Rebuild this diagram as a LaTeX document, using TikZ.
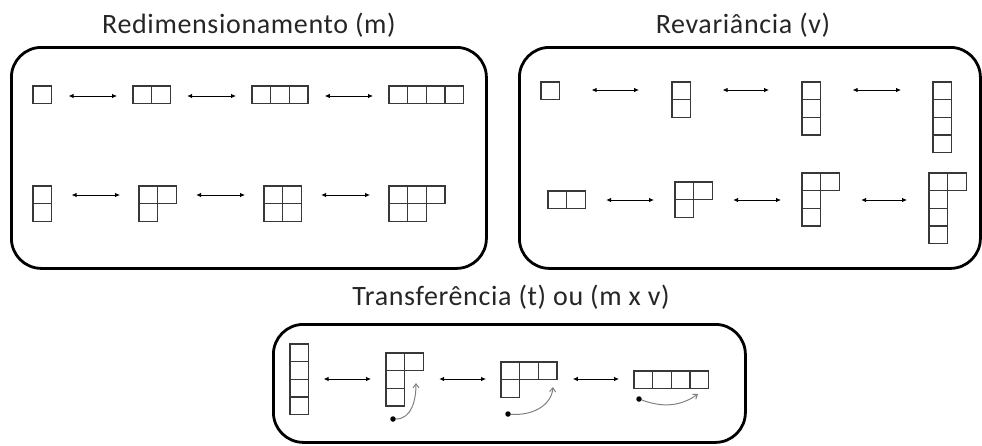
\documentclass[tikz,border=0pt]{standalone}
\usepackage{fontspec}
\setmainfont{Carlito}
\usetikzlibrary{arrows.meta, calc, positioning}
\definecolor{cellgrey}{rgb}{0.22,0.22,0.22}
\definecolor{curvegrey}{rgb}{0.5,0.5,0.5}
\newcommand{\cw}{18.6}
\newcommand{\ch}{17.6}
% a figure of unit cells: name, top-left corner, columns, rows, cells
\newcommand{\cellfig}[5]{%
  \node[figbox, minimum width=#3*\cw pt, minimum height=#4*\ch pt] (#1) at (#2) {};
  \foreach \cx/\cy in {#5}
    \draw[cell] ($(#1.north west)+(\cx*\cw,\cy*\ch)$) rectangle ++(\cw,\ch);
}
\tikzset{
  panel/.style={draw, line width=2.8pt, rounded corners=30pt, anchor=north west, inner sep=0pt},
  title/.style={anchor=base, font=\fontsize{28}{31}\selectfont\addfontfeatures{LetterSpace=2.3}, text=black!85},
  figbox/.style={anchor=north west, inner sep=0pt, outer sep=0pt},
  cell/.style={draw=cellgrey, line width=1.4pt},
  link/.style={{Latex[length=5pt,width=4.5pt]}-{Latex[length=5pt,width=4.5pt]}, line width=0.8pt},
  dot/.style={circle, fill=black, inner sep=0pt, minimum size=5.5pt},
  turn/.style={draw=curvegrey, line width=1pt, -{Straight Barb[length=4pt,width=6pt]}}
}

\begin{document}
\begin{tikzpicture}[x=1pt, y=-1pt]
    \useasboundingbox (0,0) rectangle (982,445);

    % Redimensionamento
    \node[title] (mtitle) at (249,33) {Redimensionamento (m)};
    \node[panel, minimum width=475pt, minimum height=221pt] (mbox) at (10,46) {};

    \cellfig{m1}{33,86}{1}{1}{0/0}
    \cellfig{m2}{133,86}{2}{1}{0/0,1/0}
    \cellfig{m3}{252,86}{3}{1}{0/0,1/0,2/0}
    \cellfig{m4}{389,86}{4}{1}{0/0,1/0,2/0,3/0}
    \cellfig{m5}{33,186}{1}{2}{0/0,0/1}
    \cellfig{m6}{139,186}{2}{2}{0/0,1/0,0/1}
    \cellfig{m7}{264,186}{2}{2}{0/0,1/0,0/1,1/1}
    \cellfig{m8}{389,186}{3}{2}{0/0,1/0,2/0,0/1,1/1}

    \coordinate (mrow1) at (0,96);
    \coordinate (mrow2) at (0,195);
    \draw[link, shorten <=17pt, shorten >=16pt] (m1.east |- mrow1) -- (m2.west |- mrow1);
    \draw[link, shorten <=17pt, shorten >=16pt] (m2.east |- mrow1) -- (m3.west |- mrow1);
    \draw[link, shorten <=17pt, shorten >=16pt] (m3.east |- mrow1) -- (m4.west |- mrow1);
    \draw[link, shorten <=20pt, shorten >=19pt] (m5.east |- mrow2) -- (m6.west |- mrow2);
    \draw[link, shorten <=20pt, shorten >=19pt] (m6.east |- mrow2) -- (m7.west |- mrow2);
    \draw[link, shorten <=20pt, shorten >=19pt] (m7.east |- mrow2) -- (m8.west |- mrow2);

    % Revariancia
    \node[title] (vtitle) at (743,33) {Revariância (v)};
    \node[panel, minimum width=461pt, minimum height=221pt] (vbox) at (518,46) {};

    \cellfig{v1}{541,82}{1}{1}{0/0}
    \cellfig{v2}{672,82}{1}{2}{0/0,0/1}
    \cellfig{v3}{802,82}{1}{3}{0/0,0/1,0/2}
    \cellfig{v4}{933,82}{1}{4}{0/0,0/1,0/2,0/3}
    \cellfig{v5}{548,191}{2}{1}{0/0,1/0}
    \cellfig{v6}{675,182}{2}{2}{0/0,1/0,0/1}
    \cellfig{v7}{802,173}{2}{3}{0/0,1/0,0/1,0/2}
    \cellfig{v8}{929,173}{2}{4}{0/0,1/0,0/1,0/2,0/3}

    \coordinate (vrow1) at (0,90);
    \coordinate (vrow2) at (0,200);
    \draw[link, shorten <=32pt, shorten >=33pt] (v1.east |- vrow1) -- (v2.west |- vrow1);
    \draw[link, shorten <=32pt, shorten >=33pt] (v2.east |- vrow1) -- (v3.west |- vrow1);
    \draw[link, shorten <=32pt, shorten >=32pt] (v3.east |- vrow1) -- (v4.west |- vrow1);
    \draw[link, shorten <=21pt, shorten >=21pt] (v5.east |- vrow2) -- (v6.west |- vrow2);
    \draw[link, shorten <=21pt, shorten >=21pt] (v6.east |- vrow2) -- (v7.west |- vrow2);
    \draw[link, shorten <=22pt, shorten >=22pt] (v7.east |- vrow2) -- (v8.west |- vrow2);

    % Transferencia
    \node[title] (ttitle) at (511,305) {Transferência (t) ou (m x v)};
    \node[panel, minimum width=472pt, minimum height=118pt] (tbox) at (272,323) {};

    \cellfig{t1}{290,344}{1}{4}{0/0,0/1,0/2,0/3}
    \cellfig{t2}{386,353}{2}{3}{0/0,1/0,0/1,0/2}
    \cellfig{t3}{501,362}{3}{2}{0/0,1/0,2/0,0/1}
    \cellfig{t4}{634,371}{4}{1}{0/0,1/0,2/0,3/0}

    \coordinate (trow) at (0,379);
    \draw[link, shorten <=15pt, shorten >=15pt] (t1.east |- trow) -- (t2.west |- trow);
    \draw[link, shorten <=16pt, shorten >=15pt] (t2.east |- trow) -- (t3.west |- trow);
    \draw[link, shorten <=16pt, shorten >=15pt] (t3.east |- trow) -- (t4.west |- trow);

    \node[dot] (t2dot) at (393,419) {};
    \node[dot] (t3dot) at (508,414) {};
    \node[dot] (t4dot) at (639,399) {};
    \coordinate (t2tip) at (416,383);
    \coordinate (t3tip) at (553,387);
    \coordinate (t4tip) at (698,394);
    \draw[turn] (t2dot) to[out=0, in=-90] (t2tip);
    \draw[turn] (t3dot) to[out=-5, in=-95] (t3tip);
    \draw[turn] (t4dot) to[out=-20, in=-145] (t4tip);
\end{tikzpicture}
\end{document}
